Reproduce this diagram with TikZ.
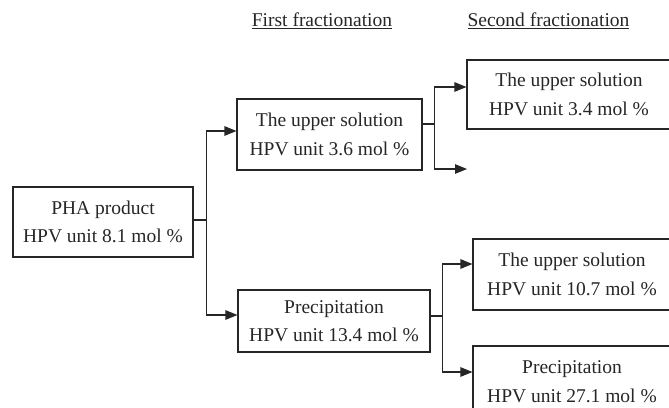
\documentclass[tikz,border=0pt]{standalone}
\usepackage{fontspec}
\setmainfont{Liberation Serif}
\usetikzlibrary{arrows.meta}
\begin{document}
\begin{tikzpicture}[x=1pt,y=-1pt,
  box/.style={draw=black!85, line width=1.1pt, inner sep=0pt, align=center,
    font=\fontsize{19.5}{28.5}\selectfont, text=black!85},
  conn/.style={draw=black!85, line width=1.1pt},
  arr/.style={conn, -{Triangle[length=12pt,width=9.5pt]}},
  head/.style={font=\fontsize{19.5}{24}\selectfont, text=black!85, inner sep=0pt}]
\useasboundingbox (0,0) rectangle (669,407);
\clip (0,0) rectangle (669,407);
% headers
\node[head] (h1) at (322,21) {\underline{First fractionation}};
\node[head] (h2) at (548.5,21) {\underline{Second fractionation}};
% boxes
\node[box, minimum width=180pt, minimum height=70pt] (pha) at (103,222) {PHA product\\HPV unit 8.1 mol \%};
\node[box, minimum width=185pt, minimum height=71pt] (ub1) at (329.5,134.5) {The upper solution\\HPV unit 3.6 mol \%};
\node[box, minimum width=192pt, minimum height=62pt] (p1) at (334,321) {Precipitation\\HPV unit 13.4 mol \%};
\node[box, minimum width=204pt, minimum height=69pt] (ub2) at (569,94.5) {The upper solution\\HPV unit 3.4 mol \%};
\node[box, minimum width=198pt, minimum height=71pt] (u10) at (572,274.5) {The upper solution\\HPV unit 10.7 mol \%};
\node[box, minimum width=198pt, minimum height=71pt] (p2) at (572,381.5) {Precipitation\\HPV unit 27.1 mol \%};
\coordinate (free) at (467,169);
% connectors
\draw[conn] ([yshift=2pt]pha.east) -- ++(13,0) coordinate (j1);
\draw[arr] (j1) |- ([yshift=3.5pt]ub1.west);
\draw[arr] (j1) |- ([yshift=6pt]p1.west);
\draw[conn] ([yshift=10.5pt]ub1.east) -- ++(12,0) coordinate (j2);
\draw[arr] (j2) |- ([yshift=7.5pt]ub2.west);
\draw[arr] (j2) |- (free);
\draw[conn] ([yshift=5pt]p1.east) -- ++(12,0) coordinate (j3);
\draw[arr] (j3) |- ([yshift=10.5pt]u10.west);
\draw[arr] (j3) |- ([yshift=9.5pt]p2.west);
\end{tikzpicture}
\end{document}
